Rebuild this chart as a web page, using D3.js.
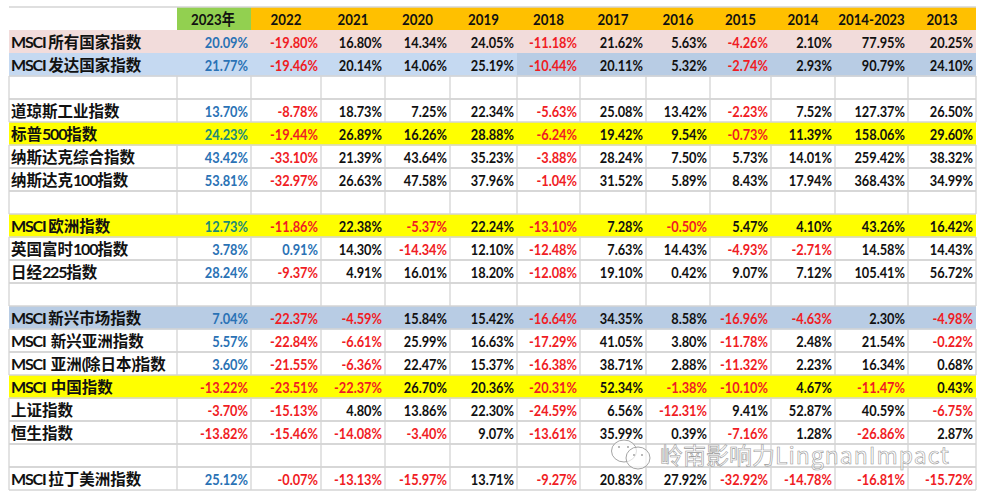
<!DOCTYPE html>
<html><head><meta charset="utf-8">
<script src="https://cdn.jsdelivr.net/npm/d3@7"></script>
<style>html,body{margin:0;background:#fff}svg{display:block}</style>
</head><body><svg id="c" width="981" height="499"></svg>
<script>
const columns = ["2023年","2022","2021","2020","2019","2018","2017","2016","2015","2014","2014-2023","2013"];
const rowLabels = ["MSCI 所有国家指数","MSCI 发达国家指数","","道琼斯工业指数","标普500指数","纳斯达克综合指数","纳斯达克100指数","","MSCI 欧洲指数","英国富时100指数","日经225指数","","MSCI 新兴市场指数","MSCI  新兴亚洲指数","MSCI  亚洲(除日本)指数","MSCI  中国指数","上证指数","恒生指数","","MSCI 拉丁美洲指数"];
const msciAll   = [20.09,-19.80,16.80,14.34,24.05,-11.18,21.62,5.63,-4.26,2.10,77.95,20.25];
const msciDev   = [21.77,-19.46,20.14,14.06,25.19,-10.44,20.11,5.32,-2.74,2.93,90.79,24.10];
const dow       = [13.70,-8.78,18.73,7.25,22.34,-5.63,25.08,13.42,-2.23,7.52,127.37,26.50];
const sp500     = [24.23,-19.44,26.89,16.26,28.88,-6.24,19.42,9.54,-0.73,11.39,158.06,29.60];
const nasdaq    = [43.42,-33.10,21.39,43.64,35.23,-3.88,28.24,7.50,5.73,14.01,259.42,38.32];
const ndx100    = [53.81,-32.97,26.63,47.58,37.96,-1.04,31.52,5.89,8.43,17.94,368.43,34.99];
const msciEur   = [12.73,-11.86,22.38,-5.37,22.24,-13.10,7.28,-0.50,5.47,4.10,43.26,16.42];
const ftse100   = [3.78,0.91,14.30,-14.34,12.10,-12.48,7.63,14.43,-4.93,-2.71,14.58,14.43];
const nikkei    = [28.24,-9.37,4.91,16.01,18.20,-12.08,19.10,0.42,9.07,7.12,105.41,56.72];
const msciEM    = [7.04,-22.37,-4.59,15.84,15.42,-16.64,34.35,8.58,-16.96,-4.63,2.30,-4.98];
const msciEMAsia= [5.57,-22.84,-6.61,25.99,16.63,-17.29,41.05,3.80,-11.78,2.48,21.54,-0.22];
const msciAxJ   = [3.60,-21.55,-6.36,22.47,15.37,-16.38,38.71,2.88,-11.32,2.23,16.34,0.68];
const msciChina = [-13.22,-23.51,-22.37,26.70,20.36,-20.31,52.34,-1.38,-10.10,4.67,-11.47,0.43];
const shanghai  = [-3.70,-15.13,4.80,13.86,22.30,-24.59,6.56,-12.31,9.41,52.87,40.59,-6.75];
const hangseng  = [-13.82,-15.46,-14.08,-3.40,9.07,-13.61,35.99,0.39,-7.16,1.28,-26.86,2.87];
const msciLatAm = [25.12,-0.07,-13.13,-15.97,13.71,-9.27,20.83,27.92,-32.92,-14.78,-16.81,-15.72];
const rowValues = [msciAll,msciDev,null,dow,sp500,nasdaq,ndx100,null,msciEur,ftse100,nikkei,null,msciEM,msciEMAsia,msciAxJ,msciChina,shanghai,hangseng,null,msciLatAm];

const YELLOW=new Set([4,8,15]);
const rowFill=i=>i===0?"#f2dcdb":i===1?"#c5d9f1":i===12?"#b8cce4":YELLOW.has(i)?"#ffff00":null;

const edges=[9,177,251,321,385,450,517,580,646,710,771,835,908,976];
const bands=["label",...columns];
const xL=k=>edges[k], topY=7, rowH=23;
const y=d3.scaleLinear().domain([0,21]).range([topY,topY+rowH*21]);
const fontLat="Lato,'Noto Sans CJK SC',sans-serif";
const svg=d3.select("#c");

svg.append("g").selectAll("rect").data(bands).join("rect")
  .attr("x",(d,i)=>xL(i)).attr("y",y(0)).attr("width",(d,i)=>xL(i+1)-xL(i)).attr("height",rowH)
  .attr("fill",(d,i)=>i===0?"#fff":i===1?"#92d050":"#ffc000");
const rows=rowLabels.map((label,i)=>({label,i,vals:rowValues[i]}));
svg.append("g").selectAll("rect").data(rows.filter(r=>rowFill(r.i))).join("rect")
  .attr("x",edges[0]).attr("y",r=>y(r.i+1)).attr("width",edges[13]-edges[0]).attr("height",rowH+.5)
  .attr("fill",r=>rowFill(r.i));
svg.append("rect").attr("x",edges[6]).attr("y",y(2)).attr("width",edges[13]-edges[6]).attr("height",rowH+.5).attr("fill","#b8cce4");

const grid=svg.append("g").attr("stroke","#d4d4d4").attr("stroke-width",1.3);
grid.append("line").attr("x1",edges[0]).attr("x2",edges[13]).attr("y1",topY).attr("y2",topY);
rows.filter(r=>!rowFill(r.i)).forEach(r=>{
  edges.forEach(e=>{
    grid.append("line").attr("x1",e).attr("x2",e).attr("y1",y(r.i+1)).attr("y2",y(r.i+2));});
  grid.append("line").attr("x1",edges[0]).attr("x2",edges[13]).attr("y1",y(r.i+1)).attr("y2",y(r.i+1));
  grid.append("line").attr("x1",edges[0]).attr("x2",edges[13]).attr("y1",y(r.i+2)).attr("y2",y(r.i+2));
});

svg.append("g").selectAll("text").data(columns).join("text")
  .attr("transform",(d,i)=>`translate(${(xL(i+1)+xL(i+2))/2+(i===0?-1:0)},${y(0)+17.5}) scale(.83,1)`)
  .attr("text-anchor","middle").attr("font-family",fontLat).attr("font-weight",700)
  .attr("font-size",16).attr("fill","#111").text(d=>d);

const labelSel=svg.append("g").selectAll("text").data(rows.filter(r=>r.label)).join("text")
  .attr("x",11).attr("y",r=>y(r.i+1)+18).style("white-space","pre")
  .attr("font-family","'Noto Sans CJK SC',sans-serif").attr("font-weight",700).attr("font-size",15.5)
  .attr("fill","#111");
labelSel.each(function(r){
  const t=d3.select(this);
  (r.label.match(/[\x00-\x7f]+|[^\x00-\x7f]+/g)||[]).forEach(run=>{
    const ascii=/^[\x00-\x7f]/.test(run);
    t.append("tspan").attr("font-family",ascii?"Lato,sans-serif":null)
     .attr("font-size",ascii?16:null).attr("letter-spacing",ascii?-1.2:null).text(run);
  });
});

const fmt=v=>v.toFixed(2)+"%";
const valColor=(r,k,v)=>{
  if(v<0) return "#f01c24";
  if(k===0) return YELLOW.has(r.i)?"#1d8a78":"#2a72b5";
  if(r.i===9&&k===1) return "#2a72b5";
  return "#111";
};
const cells=rows.filter(r=>r.vals).flatMap(r=>r.vals.map((v,k)=>({r,k,v})));
svg.append("g").selectAll("text").data(cells).join("text")
  .attr("transform",d=>`translate(${xL(d.k+2)-3},${y(d.r.i+1)+17.5}) scale(.8,1)`)
  .attr("text-anchor","end").attr("font-family",fontLat).attr("font-weight",700).attr("font-size",16)
  .attr("fill",d=>valColor(d.r,d.k,d.v)).text(d=>fmt(d.v));

const wm=svg.append("g").attr("fill","rgba(255,255,255,.65)").attr("stroke","#9a9a9a").attr("stroke-width",.9);
wm.append("ellipse").attr("cx",624).attr("cy",451).attr("rx",12.5).attr("ry",11);
wm.append("ellipse").attr("cx",638).attr("cy",458).attr("rx",12).attr("ry",11);
[[619,447],[628,447],[634,455],[642,455]].forEach(p=>
  wm.append("circle").attr("cx",p[0]).attr("cy",p[1]).attr("r",.9).attr("fill","#999").attr("stroke","none"));
const wt=svg.append("text").attr("x",660).attr("y",464).attr("font-family","'Noto Sans CJK SC',sans-serif")
  .attr("font-size",23).attr("fill","rgba(255,255,255,.65)").attr("stroke","#999").attr("stroke-width",.6);
wt.append("tspan").text("岭南影响力");
wt.append("tspan").attr("letter-spacing",1).text("LingnanImpact");
</script></body></html>
